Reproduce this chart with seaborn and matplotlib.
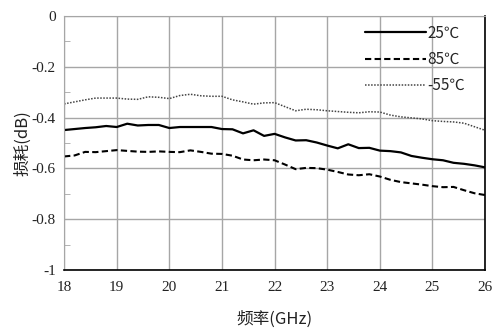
import numpy as np
import matplotlib
matplotlib.use("Agg")
import matplotlib.pyplot as plt
from matplotlib.ticker import MultipleLocator
import seaborn as sns
import pandas as pd

# frequency sweep (GHz)
freq = [18.0, 18.2, 18.4, 18.6, 18.8, 19.0, 19.2, 19.4, 19.6, 19.8,
        20.0, 20.2, 20.4, 20.6, 20.8, 21.0, 21.2, 21.4, 21.6, 21.8,
        22.0, 22.2, 22.4, 22.6, 22.8, 23.0, 23.2, 23.4, 23.6, 23.8,
        24.0, 24.2, 24.4, 24.6, 24.8, 25.0, 25.2, 25.4, 25.6, 25.8, 26.0]

# loss (dB) at each temperature
loss_25 = [-0.449, -0.445, -0.441, -0.438, -0.433, -0.437, -0.424, -0.431, -0.429, -0.429,
           -0.441, -0.437, -0.437, -0.437, -0.437, -0.445, -0.446, -0.462, -0.450, -0.472,
           -0.464, -0.478, -0.490, -0.489, -0.498, -0.510, -0.521, -0.505, -0.520, -0.519,
           -0.530, -0.532, -0.537, -0.551, -0.558, -0.564, -0.568, -0.578, -0.582, -0.588, -0.596]
loss_85 = [-0.553, -0.549, -0.535, -0.536, -0.532, -0.528, -0.531, -0.534, -0.535, -0.533,
           -0.535, -0.536, -0.529, -0.535, -0.542, -0.543, -0.550, -0.565, -0.568, -0.565,
           -0.568, -0.585, -0.603, -0.598, -0.599, -0.605, -0.614, -0.624, -0.627, -0.623,
           -0.632, -0.645, -0.654, -0.659, -0.664, -0.670, -0.674, -0.673, -0.686, -0.698, -0.705]
loss_m55 = [-0.346, -0.338, -0.330, -0.323, -0.323, -0.323, -0.327, -0.328, -0.318, -0.320,
            -0.325, -0.313, -0.308, -0.314, -0.316, -0.316, -0.330, -0.338, -0.347, -0.342,
            -0.341, -0.357, -0.373, -0.367, -0.369, -0.373, -0.376, -0.379, -0.381, -0.377,
            -0.378, -0.390, -0.397, -0.401, -0.405, -0.412, -0.415, -0.417, -0.422, -0.436, -0.450]

labels = ['25℃', '85℃', '-55℃']

df = pd.concat([
    pd.DataFrame({'freq': freq, 'loss': loss_25, 'temp': labels[0]}),
    pd.DataFrame({'freq': freq, 'loss': loss_85, 'temp': labels[1]}),
    pd.DataFrame({'freq': freq, 'loss': loss_m55, 'temp': labels[2]}),
])

sns.set_style("white")
plt.rcParams['font.family'] = ['Noto Sans CJK SC', 'DejaVu Sans']

fig = plt.figure(figsize=(4.93, 3.28), dpi=100)
ax = fig.add_axes([0.130, 0.177, 0.854, 0.774])

styles = {labels[0]: (1.6, '-', 'black'),
          labels[1]: (1.5, (0, (3, 1.6)), 'black'),
          labels[2]: (1.1, (0, (1, 1)), '#444444')}
for lab in labels:
    lw, ls, c = styles[lab]
    sns.lineplot(data=df[df.temp == lab], x='freq', y='loss', ax=ax,
                 color=c, linewidth=lw, linestyle=ls, label=lab)

ax.set_xlim(18, 26)
ax.set_ylim(-1, 0)
ax.set_xticks(range(18, 27))
ax.set_yticks([0, -0.2, -0.4, -0.6, -0.8, -1])
ax.set_yticklabels(['0', '-0.2', '-0.4', '-0.6', '-0.8', '-1'])
ax.yaxis.set_minor_locator(MultipleLocator(0.1))
ax.grid(True, which='major', color='#a6a6a6', linewidth=1.0)
ax.set_axisbelow(True)

ax.tick_params(axis='x', which='both', length=0, pad=8)
ax.tick_params(axis='y', which='major', length=4, direction='out', color='#a6a6a6', pad=2)
ax.tick_params(axis='y', which='minor', length=4, direction='in', color='#a6a6a6', left=True)
for t in ax.get_xticklabels() + ax.get_yticklabels():
    t.set_fontfamily('Liberation Serif')
    t.set_fontsize(11)
    t.set_color('#222222')

for s in ['left', 'top']:
    ax.spines[s].set_color('#a6a6a6')
for s in ['right', 'bottom']:
    ax.spines[s].set_color('black')
    ax.spines[s].set_linewidth(1.2)

ax.set_xlabel('频率(GHz)', fontsize=12, color='#222222', labelpad=12)
ax.set_ylabel('损耗(dB)', fontsize=12, color='#222222', labelpad=0)

leg = ax.legend(loc='upper right', frameon=False, fontsize=11, handlelength=4.0,
                handletextpad=0.1, labelspacing=0.6, bbox_to_anchor=(0.985, 1.02))

plt.savefig('out.png', dpi=100)
